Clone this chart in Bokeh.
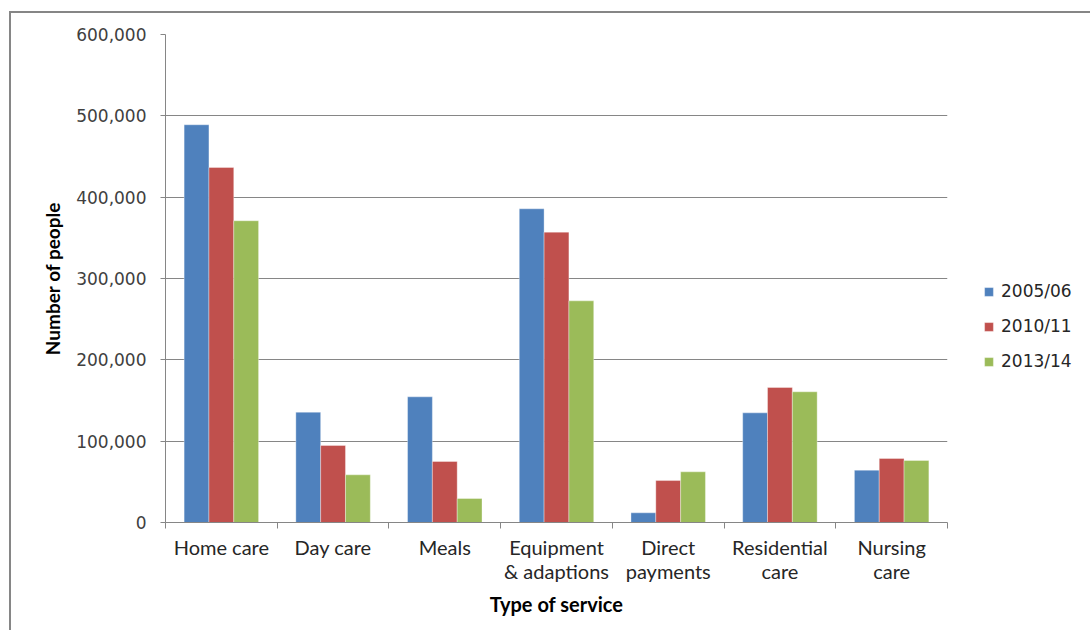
from bokeh.plotting import figure
from bokeh.models import (ColumnDataSource, Legend, LegendItem, FixedTicker,
                          NumeralTickFormatter, Range1d)
from bokeh.embed import file_html
from bokeh.resources import INLINE

categories = ["Home care", "Day care", "Meals", "Equipment\n& adaptions",
              "Direct\npayments", "Residential\ncare", "Nursing\ncare"]
series_names = ["2005/06", "2010/11", "2013/14"]
v_2005 = [489000, 135600, 154500, 385700, 11900, 134800, 64300]
v_2010 = [436500, 94700, 75000, 357000, 51600, 166000, 78700]
v_2013 = [371000, 58600, 29500, 272500, 62300, 160700, 76200]
y_ticks = [0, 100000, 200000, 300000, 400000, 500000, 600000]

colors = ["#4F81BD", "#C0504D", "#9BBB59"]
series_values = [v_2005, v_2010, v_2013]

n = len(categories)
bar_w = 0.2222
offsets = [-bar_w, 0.0, bar_w]

p = figure(frame_width=782, frame_height=488, output_backend="svg",
           toolbar_location=None,
           x_range=Range1d(0, n), y_range=Range1d(0, 600000),
           min_border_left=154, min_border_right=134, min_border_top=21,
           min_border_bottom=108)
p.styles = {"border-top": "2px solid #868686", "border-left": "2px solid #868686",
            "margin-top": "11px", "margin-left": "9px"}
p.outline_line_color = None
p.background_fill_color = "white"
p.border_fill_color = "white"

renderers = []
for vals, off, col in zip(series_values, offsets, colors):
    src = ColumnDataSource(dict(x=[i + 0.5 + off for i in range(n)], top=vals))
    r = p.vbar(x="x", top="top", width=bar_w, bottom=0, source=src,
               fill_color=col, line_color="white", line_alpha=0.35, line_width=1)
    renderers.append(r)

# x axis: labels at centers, tick marks at category boundaries
p.xaxis.ticker = FixedTicker(ticks=[i + 0.5 for i in range(n)],
                             minor_ticks=list(range(n + 1)))
p.xaxis.major_label_overrides = {i + 0.5: c for i, c in enumerate(categories)}
p.xaxis.major_tick_line_color = None
p.xaxis.major_tick_out = 0
p.xaxis.major_tick_in = 0
p.xaxis.minor_tick_out = 6
p.xaxis.minor_tick_in = 0
p.xaxis.minor_tick_line_color = "#868686"
p.xaxis.axis_line_color = "#868686"
p.xaxis.major_label_text_font = "Lato"
p.xaxis.major_label_text_font_size = "20px"
p.xaxis.major_label_text_color = "#262626"
p.xaxis.major_label_text_line_height = 1.0
p.xaxis.major_label_standoff = 6
p.xaxis.axis_label = "Type of service"
p.xaxis.axis_label_text_font = "Lato"
p.xaxis.axis_label_text_font_style = "bold"
p.xaxis.axis_label_text_font_size = "20px"
p.xaxis.axis_label_text_color = "black"
p.xaxis.axis_label_standoff = 6

# y axis
p.yaxis.ticker = FixedTicker(ticks=y_ticks)
p.yaxis.formatter = NumeralTickFormatter(format="0,0")
p.yaxis.minor_tick_line_color = None
p.yaxis.major_tick_out = 5
p.yaxis.major_tick_in = 0
p.yaxis.major_tick_line_color = "#868686"
p.yaxis.axis_line_color = "#868686"
p.yaxis.major_label_text_font = "DejaVu Sans"
p.yaxis.major_label_text_font_size = "17px"
p.yaxis.major_label_text_color = "#404040"
p.yaxis.major_label_standoff = 14
p.yaxis.axis_label = "Number of people"
p.yaxis.axis_label_text_font = "Lato"
p.yaxis.axis_label_text_font_style = "bold"
p.yaxis.axis_label_text_font_size = "19px"
p.yaxis.axis_label_text_color = "black"
p.yaxis.axis_label_standoff = 9

p.xgrid.grid_line_color = None
p.ygrid.grid_line_color = "#868686"
p.ygrid.grid_line_width = 1

legend = Legend(items=[LegendItem(label=s, renderers=[r])
                       for s, r in zip(series_names, renderers)],
                location=(36, 151), padding=0, margin=0,
                border_line_color=None, background_fill_alpha=0,
                glyph_width=11, glyph_height=11, label_height=20,
                spacing=15, label_standoff=7,
                label_text_font="DejaVu Sans", label_text_font_size="17px",
                label_text_color="#262626")
p.add_layout(legend, "right")

open("out.html", "w").write(file_html(p, INLINE))
